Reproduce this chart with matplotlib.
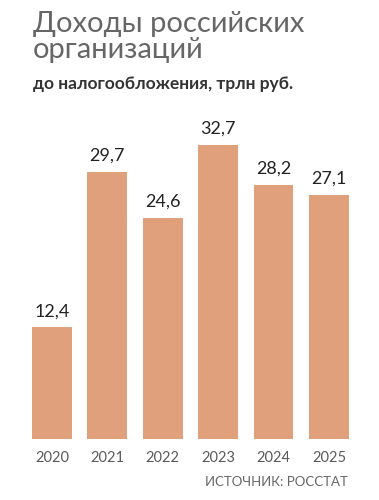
import matplotlib
matplotlib.use("Agg")
import matplotlib.pyplot as plt

years = ["2020", "2021", "2022", "2023", "2024", "2025"]
income = [12.4, 29.7, 24.6, 32.7, 28.2, 27.1]
value_labels = ["12,4", "29,7", "24,6", "32,7", "28,2", "27,1"]

bar_color = "#E0A07C"

plt.rcParams["font.family"] = ["Lato", "DejaVu Sans"]

fig = plt.figure(figsize=(3.79, 5.0), dpi=100)
ax = fig.add_axes([0.064, 0.122, 0.877, 0.72])

xs = range(len(years))
ax.bar(xs, income, width=0.72, color=bar_color)
for x, v, lab in zip(xs, income, value_labels):
    ax.text(x, v + 0.9, lab, ha="center", va="bottom", fontsize=13, color="#222222")

ax.set_xlim(-0.5, 5.5)
ax.set_ylim(0, 40)
ax.set_xticks(list(xs))
ax.set_xticklabels(years, fontsize=10.5, color="#5a5a5a")
ax.tick_params(axis="x", length=0, pad=9)
ax.set_yticks([])
for s in ax.spines.values():
    s.set_visible(False)

# titles
fig.text(0.087, 0.978, "Доходы российских\nорганизаций", ha="left", va="top",
         fontsize=21, color="#666666", linespacing=1.02)
fig.text(0.087, 0.816, "до налогообложения, трлн руб.", ha="left", va="bottom",
         fontsize=12.5, color="#333333", fontweight="bold")
fig.text(0.918, 0.025, "ИСТОЧНИК: РОССТАТ", ha="right", va="bottom",
         fontsize=9.5, color="#666666")

fig.savefig("out.png", dpi=100)
